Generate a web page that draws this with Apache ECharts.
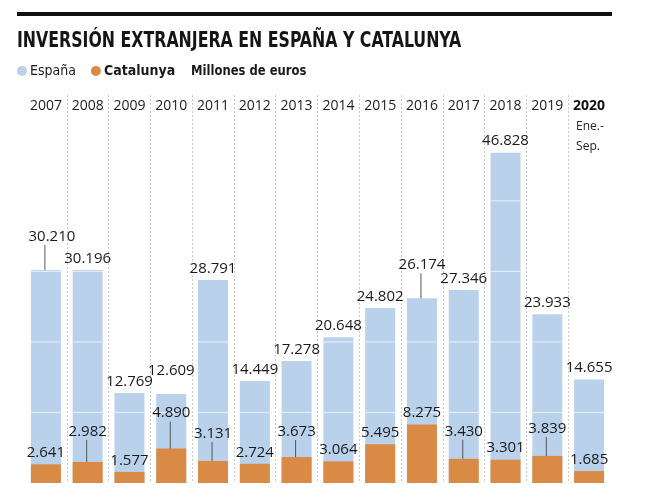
<!DOCTYPE html>
<html>
<head>
<meta charset="utf-8">
<script src="https://cdn.jsdelivr.net/npm/echarts@6/dist/echarts.min.js"></script>
<style>html,body{margin:0;padding:0;background:#fff}#c{width:646px;height:500px}</style>
</head>
<body>
<div id="c"></div>
<script>
// ---- data ----
const years = ['2007','2008','2009','2010','2011','2012','2013','2014','2015','2016','2017','2018','2019','2020'];
const espana = [30210, 30196, 12769, 12609, 28791, 14449, 17278, 20648, 24802, 26174, 27346, 46828, 23933, 14655];
const catalunya = [2641, 2982, 1577, 4890, 3131, 2724, 3673, 3064, 5495, 8275, 3430, 3301, 3839, 1685];
const gridValues = [10000, 20000, 30000, 40000];

// ---- label placement (style, not data) ----
const espRaise = {0: 22, 9: 22};
const espLift = {3: 12};          // raised without leader line
const catRaise = {1: 19, 3: 24, 4: 16, 6: 14, 10: 16, 12: 16};
const espShiftX = {0: 6};
const BAR_W = 30;

const COND = '"DejaVu Sans Condensed", "Open Sans", sans-serif';
const LBL = '"Open Sans", "Liberation Sans", sans-serif';
const fmt = v => String(v).replace(/\B(?=(\d{3})+(?!\d))/g, '.');

function mkData(vals, raise, lift, shift) {
  return vals.map((v, i) => {
    const r = (raise[i] || 0) + ((lift && lift[i]) || 0), sx = (shift && shift[i]) || 0;
    return (r || sx) ? {value: v, label: {offset: [sx, -r]}} : v;
  });
}
function leaderData(vals, raise) {
  return Object.keys(raise).map(k => [years[+k], vals[+k], raise[k]]);
}
const leaderRender = (params, api) => {
  const p = api.coord([api.value(0), api.value(1)]);
  const r = api.value(2);
  return {type: 'line', shape: {x1: p[0] - 1, y1: p[1], x2: p[0] - 1, y2: p[1] - r - 3},
          style: {stroke: '#555', lineWidth: 1}};
};
// faint white value lines drawn across the España bars only
const whiteLineRender = (params, api) => {
  const cat = api.value(0), v = api.value(1);
  const children = gridValues.filter(g => g < v).map(g => {
    const p = api.coord([cat, g]);
    return {type: 'line', shape: {x1: p[0] - BAR_W / 2, y1: p[1], x2: p[0] + BAR_W / 2, y2: p[1]},
            style: {stroke: 'rgba(255,255,255,0.7)', lineWidth: 1}};
  });
  return {type: 'group', children};
};

const chart = echarts.init(document.getElementById('c'), null, {renderer: 'canvas'});
chart.setOption({
  animation: false,
  backgroundColor: '#fff',
  legend: {
    left: 17, top: 64, padding: 0, itemWidth: 10, itemHeight: 10, itemGap: 15, icon: 'circle',
    textStyle: {fontFamily: COND, fontSize: 14, color: '#1a1a1a', padding: [0, 0, 0, -2]},
    data: [{name: 'España'}, {name: 'Catalunya', textStyle: {fontWeight: 'bold'}}]
  },
  graphic: [
    {type: 'rect', left: 17, top: 12, shape: {width: 595, height: 4}, style: {fill: '#111'}},
    {type: 'text', x: 17, y: 31, scaleX: 0.835, style: {text: 'INVERSIÓN EXTRANJERA EN ESPAÑA Y CATALUNYA', font: 'bold 21px ' + COND, fill: '#151515', verticalAlign: 'top'}},
    {type: 'text', x: 191, y: 64, scaleX: 0.92, style: {text: 'Millones de euros', font: 'bold 14px ' + COND, fill: '#1a1a1a', verticalAlign: 'top'}}
  ],
  grid: {left: 25, right: 36, top: 95, bottom: 17},
  xAxis: {
    type: 'category', data: years, position: 'top',
    axisLine: {show: false}, axisTick: {show: false},
    axisLabel: {
      inside: true, margin: 2, interval: 0,
      formatter: v => v === '2020' ? '{b|2020}\n{e|Ene.-}\n{s|Sep.}' : '{n|' + v + '}',
      rich: {
        n: {fontFamily: LBL, fontSize: 14, color: '#222', lineHeight: 18},
        b: {fontFamily: LBL, fontSize: 14, fontWeight: 'bold', color: '#111', lineHeight: 18, align: 'left'},
        e: {fontFamily: LBL, fontSize: 12, color: '#222', lineHeight: 24, align: 'left', padding: [0, 0, 0, 3]},
        s: {fontFamily: LBL, fontSize: 12, color: '#222', lineHeight: 15, align: 'left', padding: [0, 0, 0, 3]}
      }
    },
    splitLine: {show: true, showMinLine: false, showMaxLine: false, lineStyle: {color: '#c8c8c8', type: [2, 2], width: 1}}
  },
  yAxis: {type: 'value', min: 0, max: 55000, show: false, splitLine: {show: false}},
  series: [
    {
      name: 'España', type: 'bar', barWidth: BAR_W, barGap: '-100%', z: 2,
      itemStyle: {color: '#bad1eb'},
      label: {show: true, position: 'top', distance: 4, formatter: p => fmt(p.value), fontFamily: LBL, fontSize: 15, color: '#1a1a1a'},
      data: mkData(espana, espRaise, espLift, espShiftX)
    },
    {type: 'custom', renderItem: whiteLineRender, data: years.map((y, i) => [y, espana[i]]), z: 3, silent: true},
    {
      name: 'Catalunya', type: 'bar', barWidth: BAR_W, barGap: '-100%', z: 4,
      itemStyle: {color: '#d98a44'},
      label: {show: true, position: 'top', distance: 4, formatter: p => fmt(p.value), fontFamily: LBL, fontSize: 15, color: '#1a1a1a'},
      data: mkData(catalunya, catRaise)
    },
    {type: 'custom', renderItem: leaderRender, data: leaderData(espana, espRaise), z: 6, silent: true},
    {type: 'custom', renderItem: leaderRender, data: leaderData(catalunya, catRaise), z: 6, silent: true}
  ]
});
</script>
</body>
</html>
